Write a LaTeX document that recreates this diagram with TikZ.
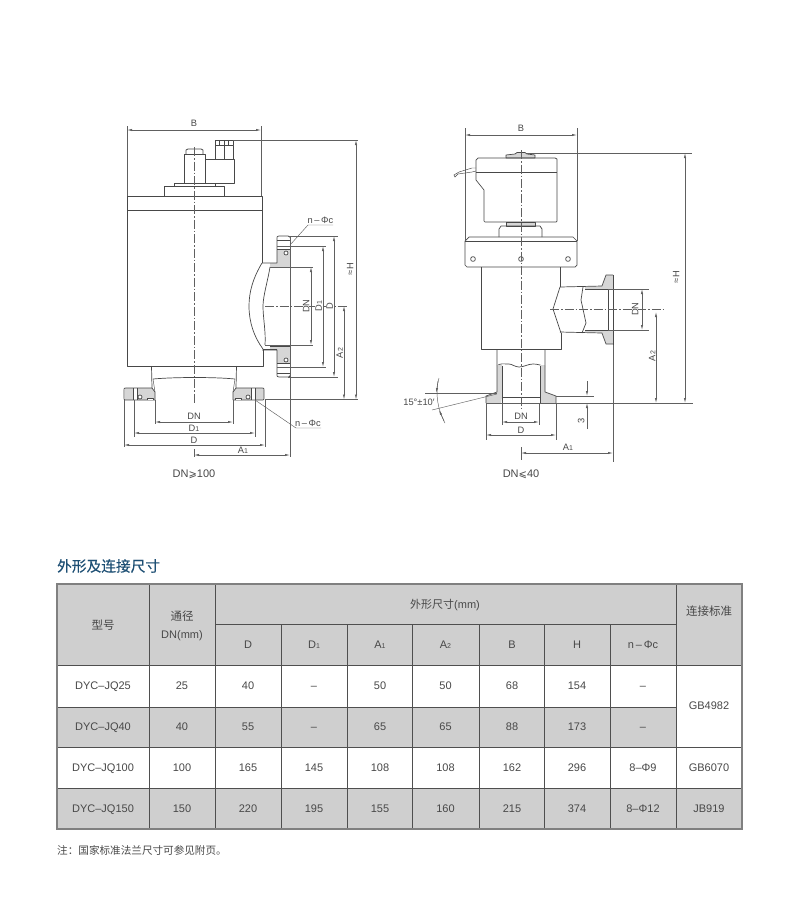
\documentclass[tikz,border=0pt]{standalone}
\usepackage{fontspec}
\setmainfont{Liberation Sans}
\newfontfamily\cjk{Noto Sans CJK SC}
\newfontfamily\cjkb[FakeBold=0.25]{Noto Sans CJK SC}
\newfontfamily\dejav{DejaVu Sans}
\usetikzlibrary{arrows.meta}
\definecolor{ink}{HTML}{484848}
\definecolor{dimc}{HTML}{606060}
\definecolor{txt}{HTML}{484848}
\definecolor{grayfill}{HTML}{CFCFCF}
\definecolor{partfill}{HTML}{D6D6D6}
\definecolor{titlec}{HTML}{1D4F74}
\definecolor{rulec}{HTML}{4F4F4F}
\newcommand{\lowsub}[1]{{\fontsize{7}{8}\selectfont #1}}
\tikzset{
 outl/.style={draw=ink,line width=0.7pt,line join=round},
 thinl/.style={draw=ink,line width=0.45pt},
 extl/.style={draw=dimc,line width=0.45pt},
 dimln/.style={draw=dimc,line width=0.55pt,{Latex[length=5pt,width=2.2pt]}-{Latex[length=5pt,width=2.2pt]}},
 oneway/.style={draw=dimc,line width=0.55pt,-{Latex[length=5pt,width=2.2pt]}},
 axisl/.style={draw=dimc,line width=0.45pt,dash pattern=on 9pt off 2pt on 1.5pt off 2pt},
 lab/.style={inner sep=0pt,text=txt,text height=6.6pt,text depth=0pt,font=\fontsize{9.3}{11}\selectfont},
 lbl/.style={inner sep=0pt,text=txt,text height=6.6pt,text depth=0pt,font=\fontsize{9.3}{11}\selectfont},
 cell/.style={inner sep=0pt,text=txt,text height=7.8pt,text depth=0pt,font=\fontsize{11}{13}\selectfont},
 cjkcell/.style={inner sep=0pt,text=txt,font=\fontsize{11.5}{14}\selectfont\cjk},
 trule/.style={draw=rulec,line width=0.85pt},
 tframe/.style={draw=black!50,line width=1.1pt},
}
\newcommand{\sideflange}{%
 \fill[partfill] (277,250) -- (290,250) -- (290,267) -- (270,267) -- (270,263) -- (277,263) -- cycle;
 \draw[outl] (262,263) -- (277,263) -- (277,238) .. controls (277,236.5) .. (279,236) -- (288,236) .. controls (290,236.5) .. (290,238);
 \draw[thinl] (277,240) -- (290,240) (277,249.5) -- (290,249.5);
 \draw[outl,fill=white] (286,253) circle (2);
 \draw[outl] (270,267) -- (290,267);
}
\newcommand{\baseflange}{%
 \fill[partfill] (124.5,388) rectangle (133,400);
 \fill[partfill] (137,388) -- (152,388) -- (155,392) -- (155,400) -- (137,400) -- cycle;
 \draw[outl] (152,388) -- (126,388) .. controls (124,388) .. (124,390) -- (124,398) .. controls (124,400) .. (126,400) -- (155,400);
 \draw[thinl] (133,388) -- (133,400);
 \draw[outl] (137,388) -- (137,400);
 \draw[outl,fill=white] (147,400) -- (147,398) -- (153,398) -- (153,400);
 \draw[outl,fill=white] (140,397) circle (2);
 \draw[outl] (151.5,366) -- (152,388) -- (155,392) -- (155,400);
 \draw[thinl] (153,379) -- (155,392);
}
\newcommand{\clampside}{%
 \fill[partfill] (585,287) -- (602,286) -- (606,275) -- (613,275) -- (613,289) -- (585,289) -- cycle;
 \draw[outl] (560,287) -- (602,286) -- (606,275) -- (613,275);
 \draw[outl] (585,289) -- (613,289);
}
\newcommand{\clampbase}{%
 \fill[partfill] (497,365) -- (502,365) -- (502,397) -- (501,403) -- (486,403) -- (486,396) -- (497,392) -- cycle;
 \draw[outl] (497,349) -- (497,392) -- (486,396) -- (486,403);
 \draw[outl] (502,366) -- (502,403);
}
\begin{document}
\begin{tikzpicture}[x=1pt,y=-1pt]
\useasboundingbox (0,0) rectangle (800,922);
\fill[white] (0,0) rectangle (800,922);

%% ---------- left view
\draw[outl] (127,196) rectangle (262,210);
\draw[outl] (127,210) -- (127,366) -- (263,366) -- (263,349);
\draw[outl] (262,210) -- (262,263);
\draw[outl] (164,186) rectangle (224,196);
\draw[outl] (174,183) rectangle (215,186);
\draw[outl] (184,183) -- (184,154) -- (205,154) -- (205,183);
\draw[outl] (186,154) -- (186,150) -- (188,149) -- (201,149) -- (203,150) -- (203,154);
\draw[outl] (205,159) -- (234,159) -- (234,183) -- (215,183);
\draw[outl] (215,159) -- (215,145) -- (233,145) -- (233,159);
\draw[outl] (215,145) -- (215,140) -- (233,140) -- (233,145);
\draw[thinl] (219,140) -- (219,145) (224,140) -- (224,145) (228,140) -- (228,145);
\draw[thinl] (224,145) -- (224,159);
% bulge
\draw[outl] (262,263) .. controls (253,278) and (249,292) .. (249,306) .. controls (249,322) and (254,337) .. (263,349);
\draw[outl] (270,267) .. controls (268,280) and (263,296) .. (263,306) .. controls (263,318) and (266,332) .. (265,345);
\sideflange
\begin{scope}[yshift=-613pt,yscale=-1]
 \sideflange
\end{scope}
\draw[outl] (277,349) -- (263,349);
% neck + base
\draw[outl] (153,379) .. controls (175,377) and (215,377) .. (235,379);
\baseflange
\begin{scope}[xshift=388pt,xscale=-1]
 \baseflange
\end{scope}
% left dims
\draw[axisl] (194,147) -- (194,404);
\draw[extl] (194,449) -- (194,457);
\draw[axisl] (265,306) -- (347,306);
\draw[extl] (127,126) -- (127,196) (261,126) -- (261,196);
\draw[dimln] (127,130) -- (261,130);
\node[lab] (bl) at (194,123) {B};
\draw[extl] (233,140) -- (358,140);
\draw[extl] (265,399.5) -- (358,399.5);
\draw[dimln] (356,140) -- (356,399.5);
\node[lab,rotate=90] (hl) at (350,269) {≈\,H};
\draw[extl] (290,236) -- (290,457);
\draw[extl] (288,236) -- (338,236) (277,246) -- (326,246) (270,267) -- (313,267);
\draw[extl] (265,345) -- (313,345) (277,367) -- (326,367) (288,377) -- (338,377);
\draw[dimln] (311,267) -- (311,345);
\draw[dimln] (323,246) -- (323,367);
\draw[dimln] (334,236) -- (334,377);
\draw[dimln] (344,306) -- (344,399.5);
\node[fill=white,lab,rotate=90] (ldn) at (306,306) {DN};
\node[fill=white,lab,rotate=90] (ld1) at (318.5,306) {D\lowsub{1}};
\node[fill=white,lab,rotate=90] (ldd) at (329.5,306) {D};
\node[lab,rotate=90] (la2) at (339.5,353) {A\lowsub{2}};
\draw[extl] (290,245) -- (308,225) -- (333,225);
\node[lab] (lnc1) at (320.5,220) {n\,–\,Φc};
\draw[extl] (155,400) -- (155,424) (233,400) -- (233,424);
\draw[extl] (134,400) -- (134,437) (255,400) -- (255,437);
\draw[extl] (124,400) -- (124,447) (265,400) -- (265,447);
\draw[dimln] (155,422) -- (233,422);
\draw[dimln] (134,433) -- (255,433);
\draw[dimln] (124,445) -- (265,445);
\draw[dimln] (194,455) -- (290,455);
\node[lab] (bdn) at (194,416.5) {DN};
\node[lab] (bd1) at (194,428) {D\lowsub{1}};
\node[lab] (bdd) at (194,440) {D};
\node[lab] (ba1) at (243,450.5) {A\lowsub{1}};
\draw[extl] (255,400) -- (296,428) -- (321,428);
\node[lab] (lnc2) at (308,423) {n\,–\,Φc};
\node[inner sep=0pt,text=txt,font=\fontsize{11}{13}\selectfont] (cap1) at (194,474) {DN{\dejav\fontsize{10}{12}\selectfont ⩾}100};

%% ---------- right view
\draw[outl,fill=partfill] (506,158) -- (506,155) -- (515,154) -- (517,152.5) -- (525,152.5) -- (527,154) -- (535,155) -- (535,158) -- cycle;
\draw[outl] (478,158) -- (555,158) -- (557,159) -- (557,221) -- (556,222) -- (485,222) -- (484,221) -- (484,190) -- (476,180) -- (476,160) -- cycle;
\draw[outl] (476,172) -- (557,172);
\draw[thinl] (476,168) -- (472,168) -- (459,172) -- (454,175) -- (455,177) -- (458,174) -- (472,172) -- (476,171);
\draw[outl,fill=partfill] (506,222) rectangle (535,226);
\draw[outl] (499,237) -- (499,229) -- (501,226) -- (540,226) -- (542,229) -- (542,237);
\draw[outl] (465,241) -- (469,237) -- (573,237) -- (577,241) -- (577,265) -- (575,267) -- (467,267) -- (465,265) -- cycle;
\draw[outl] (465,241) -- (577,241);
\foreach \hx in {473,521,568} \draw[outl] (\hx,259) circle (2.4);
\draw[outl] (481,267) -- (481,349) -- (561,349) -- (561,333);
\draw[outl] (560,267) -- (560,287);
% side port
\draw[outl] (560,287) -- (553,309) -- (561,333);
\draw[outl] (583,287) -- (581,300) -- (586,323) -- (582,333);
\clampside
\begin{scope}[yshift=-619pt,yscale=-1]
 \clampside
\end{scope}
\draw[outl] (608,289) -- (608,330);
\draw[outl] (613,275) -- (613,345);
% neck + base
\draw[outl] (497,366) .. controls (500,363) and (503,364) .. (509,364) .. controls (512,364) and (515,367) .. (519,367) .. controls (524,367) and (528,364) .. (533,364) .. controls (537,364) and (541,365) .. (545,367);
\clampbase
\begin{scope}[xshift=1042pt,xscale=-1]
 \clampbase
\end{scope}
\draw[outl] (486,403) -- (556,403);
\draw[outl] (502,397) -- (540,397);
% right dims
\draw[axisl] (521,150) -- (521,410);
\draw[axisl] (550,309) -- (664,309);
\draw[extl] (465,128) -- (465,241) (577,128) -- (577,241);
\draw[dimln] (465,135) -- (577,135);
\node[lab] (rb) at (521,128) {B};
\draw[extl] (527,153) -- (692,153);
\draw[extl] (486,403) -- (693,403);
\draw[dimln] (685,153) -- (685,403);
\node[lab,rotate=90] (rh) at (676,277) {≈\,H};
\draw[extl] (613,345) -- (613,462);
\draw[extl] (608,289) -- (649,289) (608,330) -- (649,330);
\draw[dimln] (642,289) -- (642,330);
\node[fill=white,lab,rotate=90] (rdn) at (635,309) {DN};
\draw[dimln] (656,312) -- (656,403);
\node[lab,rotate=90] (ra2) at (652,356) {A\lowsub{2}};
\draw[extl] (502,403) -- (502,425) (539,403) -- (539,425);
\draw[extl] (486,403) -- (486,440) (556,403) -- (556,440);
\draw[dimln] (502,422) -- (539,422);
\draw[dimln] (486,435) -- (556,435);
\node[lab] (rbdn) at (521,416) {DN};
\node[lab] (rbd) at (521,430) {D};
\draw[extl] (521,447) -- (521,460);
\draw[dimln] (521,453) -- (613,453);
\node[lab] (rba1) at (568,447) {A\lowsub{1}};
\draw[extl] (556,396) -- (594,396);
\draw[oneway] (587,381) -- (587,396);
\draw[oneway] (587,429) -- (587,403);
\node[lab,rotate=90] (r3) at (581,421) {3};
\draw[extl] (425,393) -- (497,393);
\draw[extl] (432,410) -- (497,394);
\draw[extl] (439,378) .. controls (435,392) and (437,408) .. (445,423);
\draw[oneway] (438,381) -- (436.3,393);
\draw[oneway] (444,421) -- (439,410);
\node[lbl] (rang) at (419,402) {15°±10′};
\node[inner sep=0pt,text=txt,font=\fontsize{11}{13}\selectfont] (cap2) at (521,474) {DN{\dejav\fontsize{10}{12}\selectfont ⩽}40};

%% ---------- table
\node[anchor=west,inner sep=0pt,text=titlec,font=\fontsize{14.7}{16}\selectfont\cjkb] (title) at (57,566) {外形及连接尺寸};
\fill[grayfill] (57,584) rectangle (742,665);
\fill[grayfill] (57,707) rectangle (676,747);
\fill[grayfill] (57,788) rectangle (742,829);
\draw[trule] (215,624) -- (676,624);
\draw[trule] (57,665) -- (742,665);
\draw[trule] (57,707) -- (676,707);
\draw[trule] (57,747) -- (742,747);
\draw[trule] (57,788) -- (742,788);
\draw[trule] (149,584) -- (149,829) (215,584) -- (215,829) (676,584) -- (676,829);
\foreach \tx in {281,347,412,479,544,610} \draw[trule] (\tx,624) -- (\tx,829);
\draw[tframe] (57,584) rectangle (742,829);

\node[cjkcell] (h1) at (103,625) {型号};
\node[cjkcell] (h2) at (182,616) {通径};
\node[cell] (h2b) at (182,635) {DN(mm)};
\node[cell] (h3) at (445,605) {{\cjk 外形尺寸}(mm)};
\node[cjkcell] (h4) at (709,611) {连接标准};
\node[cell] (c1) at (248,645) {D};
\node[cell] (c2) at (314,645) {D\lowsub{1}};
\node[cell] (c3) at (380,645) {A\lowsub{1}};
\node[cell] (c4) at (445.5,645) {A\lowsub{2}};
\node[cell] (c5) at (512,645) {B};
\node[cell] (c6) at (577,645) {H};
\node[cell] (c7) at (643,645) {n\,–\,Φc};
\foreach \ry/\rn/\a/\b/\c/\d/\e/\f/\g/\h/\i in {
 686/ra/DYC–JQ25/25/40/–/50/50/68/154/–,
 727/rb/DYC–JQ40/40/55/–/65/65/88/173/–,
 768/rc/DYC–JQ100/100/165/145/108/108/162/296/8–Φ9,
 809/rd/DYC–JQ150/150/220/195/155/160/215/374/8–Φ12}{
 \node[cell] (\rn1) at (103,\ry) {\a};
 \node[cell] (\rn2) at (182,\ry) {\b};
 \node[cell] (\rn3) at (248,\ry) {\c};
 \node[cell] (\rn4) at (314,\ry) {\d};
 \node[cell] (\rn5) at (380,\ry) {\e};
 \node[cell] (\rn6) at (445.5,\ry) {\f};
 \node[cell] (\rn7) at (512,\ry) {\g};
 \node[cell] (\rn8) at (577,\ry) {\h};
 \node[cell] (\rn9) at (643,\ry) {\i};
}
\node[cell] (g1) at (709,706) {GB4982};
\node[cell] (g2) at (709,768) {GB6070};
\node[cell] (g3) at (709,809) {JB919};
\node[anchor=west,inner sep=0pt,text=txt,font=\fontsize{10.6}{12}\selectfont\cjk] (note) at (57,850) {注：国家标准法兰尺寸可参见附页。};
\end{tikzpicture}
\end{document}
